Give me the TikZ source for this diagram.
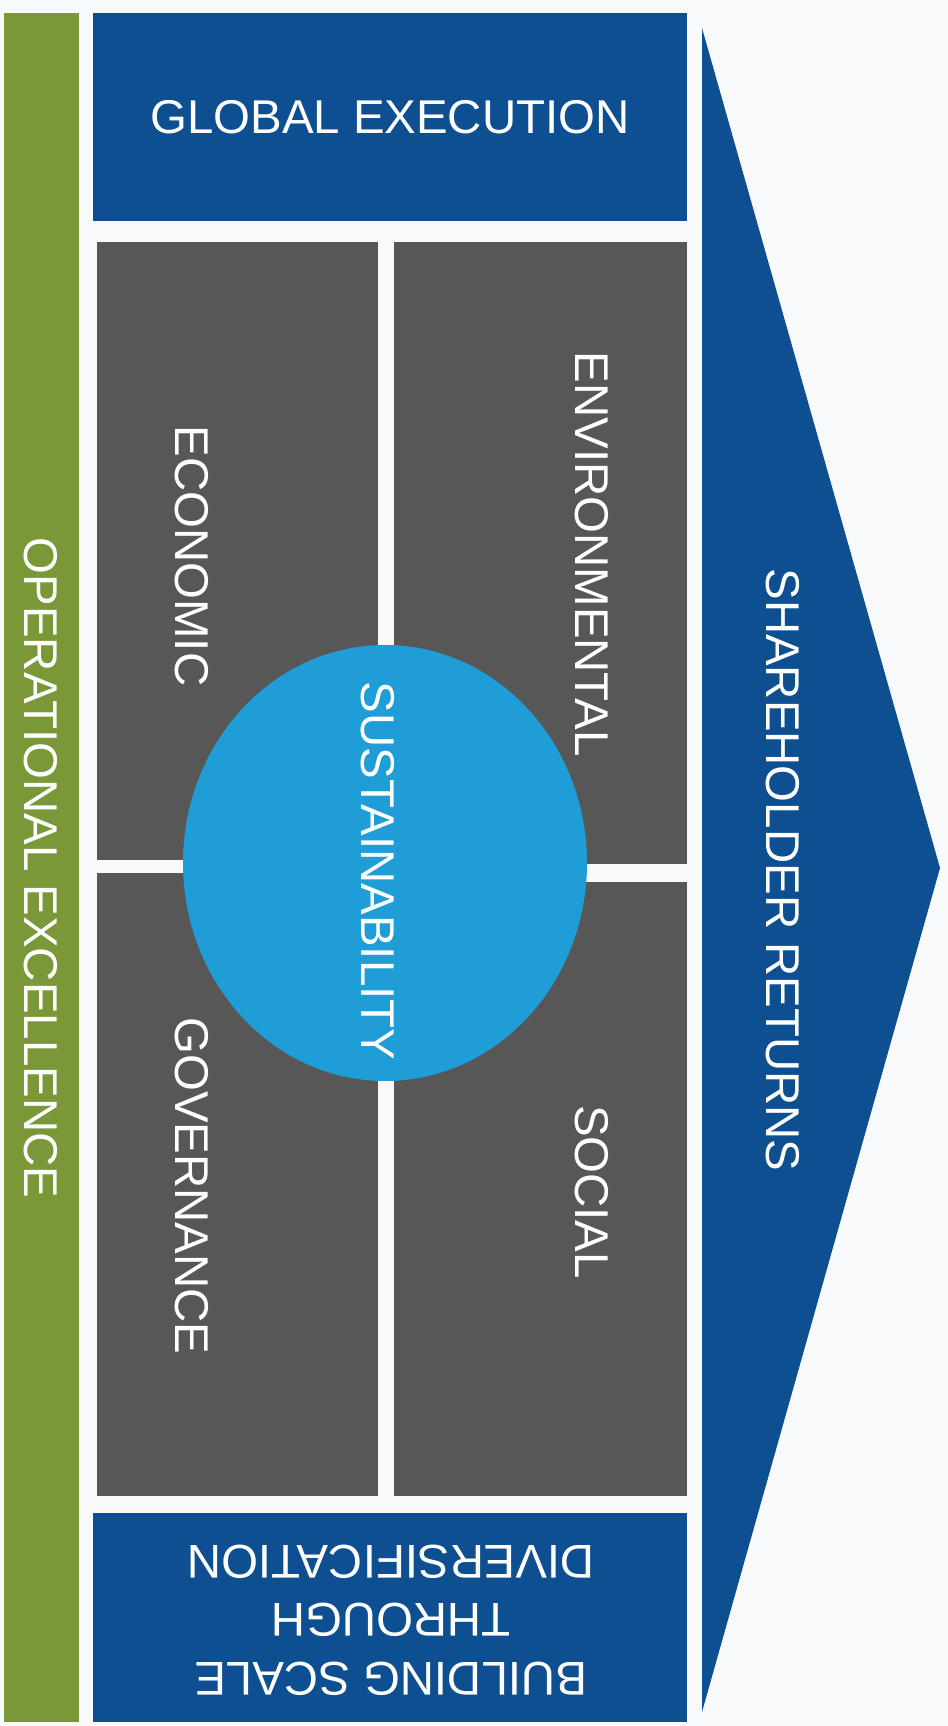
\documentclass[tikz,border=0pt]{standalone}
\usepackage{fontspec}
\setmainfont{Liberation Sans}
\definecolor{bgc}{HTML}{F7F9FB}
\definecolor{oliveg}{HTML}{7B9838}
\definecolor{navy}{HTML}{0D4F90}
\definecolor{slate}{HTML}{575757}
\definecolor{skyb}{HTML}{1F9DD7}
\tikzset{
  lbl/.style={text=white, inner sep=0pt, font=\fontsize{23.7}{29.3}\selectfont, align=center},
  navybox/.style={fill=navy, draw=none},
  graybox/.style={fill=slate, draw=none}
}
\begin{document}
\begin{tikzpicture}[x=0.5pt, y=-0.5pt]
\fill[bgc] (0,0) rectangle (948,1726);
\useasboundingbox (0,0) rectangle (948,1726);
% green bar
\fill[oliveg] (4,13) rectangle (79,1722);
% arrow
\fill[navy] (702,28) -- (940,868) -- (702,1712) -- cycle;
% top and bottom blue boxes
\fill[navybox] (93,13) rectangle (687,221);
\fill[navybox] (93,1513) rectangle (687,1722);
% gray quadrants
\fill[graybox] (97,242) rectangle (378,860);
\fill[graybox] (97,873) rectangle (378,1496);
\fill[graybox] (394,242) rectangle (687,864);
\fill[graybox] (394,882) rectangle (687,1496);
% circle
\fill[skyb] (385,863) ellipse [x radius=202, y radius=218];
% labels
\node[lbl] (glob) at (390,117) {GLOBAL EXECUTION};
\node[lbl, rotate=-90] (oper) at (41,868) {OPERATIONAL EXCELLENCE};
\node[lbl, rotate=-90] (econ) at (191.5,556) {ECONOMIC};
\node[lbl, rotate=-90] (envi) at (592,554) {ENVIRONMENTAL};
\node[lbl, rotate=-90] (sust) at (378,871) {SUSTAINABILITY};
\node[lbl, rotate=-90] (gove) at (191.5,1186) {GOVERNANCE};
\node[lbl, rotate=-90] (soci) at (592,1192) {SOCIAL};
\node[lbl, rotate=-90] (shar) at (783,870) {SHAREHOLDER RETURNS};
\node[lbl, rotate=180] (buil) at (391,1620) {BUILDING SCALE\\THROUGH\\DIVERSIFICATION};
\end{tikzpicture}
\end{document}
